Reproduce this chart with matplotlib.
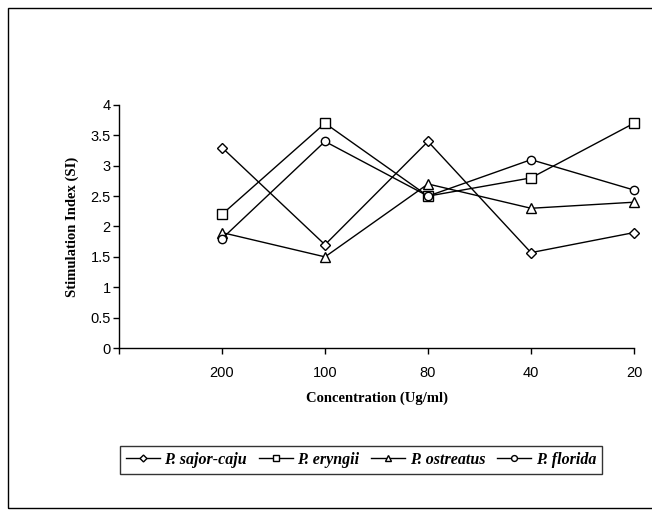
import matplotlib
matplotlib.use("Agg")
import matplotlib.pyplot as plt
from matplotlib.patches import Rectangle

categories = ["200", "100", "80", "40", "20"]
sajor_caju = [3.3, 1.7, 3.4, 1.57, 1.9]
eryngii = [2.2, 3.7, 2.5, 2.8, 3.7]
ostreatus = [1.9, 1.5, 2.7, 2.3, 2.4]
florida = [1.8, 3.4, 2.5, 3.1, 2.6]
series_names = ["P. sajor-caju", "P. eryngii", "P. ostreatus", "P. florida"]
yticks = [0, 0.5, 1, 1.5, 2, 2.5, 3, 3.5, 4]
ytick_labels = ["0", "0.5", "1", "1.5", "2", "2.5", "3", "3.5", "4"]

fig = plt.figure(figsize=(6.52, 5.16), dpi=100)
ax = fig.add_axes([119/652, 1-348/516, (634-119)/652, (348-105)/516])

x = list(range(len(categories)))
markers = ["D", "s", "^", "o"]
sizes = [5, 7, 7, 6]
for vals, name, m, s in zip([sajor_caju, eryngii, ostreatus, florida], series_names, markers, sizes):
    ax.plot(x, vals, color="black", lw=1.0, marker=m, ms=s,
            mfc="white", mec="black", mew=1.0, label=name, clip_on=False)

ax.set_xlim(-1, 4)
ax.set_ylim(0, 4)
ax.set_xticks([-1] + x)
ax.set_xticklabels([""] + categories, fontfamily="Liberation Sans", fontsize=10.5)
ax.set_yticks(yticks)
ax.set_yticklabels(ytick_labels, fontfamily="Liberation Sans", fontsize=10.5)
ax.tick_params(axis="x", direction="out", length=4, width=1, pad=9)
ax.tick_params(axis="y", direction="out", length=4, width=1, pad=2)
for sp in ["top", "right"]:
    ax.spines[sp].set_visible(False)
for sp in ["left", "bottom"]:
    ax.spines[sp].set_linewidth(1.0)

ax.set_xlabel("Concentration (Ug/ml)", fontfamily="Liberation Serif", fontweight="bold", fontsize=10.5, labelpad=8)
ax.set_ylabel("Stimulation Index (SI)", fontfamily="Liberation Serif", fontweight="bold", fontsize=10.5, labelpad=8)

leg = fig.legend(loc="center", bbox_to_anchor=(361/652, 1-460/516), ncol=4, frameon=True,
                 fancybox=False, edgecolor="black", handlelength=2.1, handletextpad=0.3,
                 columnspacing=0.75, borderpad=0.4, markerscale=0.7,
                 prop={"family": "Liberation Serif", "weight": "bold", "style": "italic", "size": 11.5})
leg.get_frame().set_linewidth(1.0)

fig.patches.append(Rectangle((8/652, 1-508/516), 660/652, 500/516, transform=fig.transFigure,
                             fill=False, edgecolor="black", lw=1.0))

fig.savefig("out.png", dpi=100)
